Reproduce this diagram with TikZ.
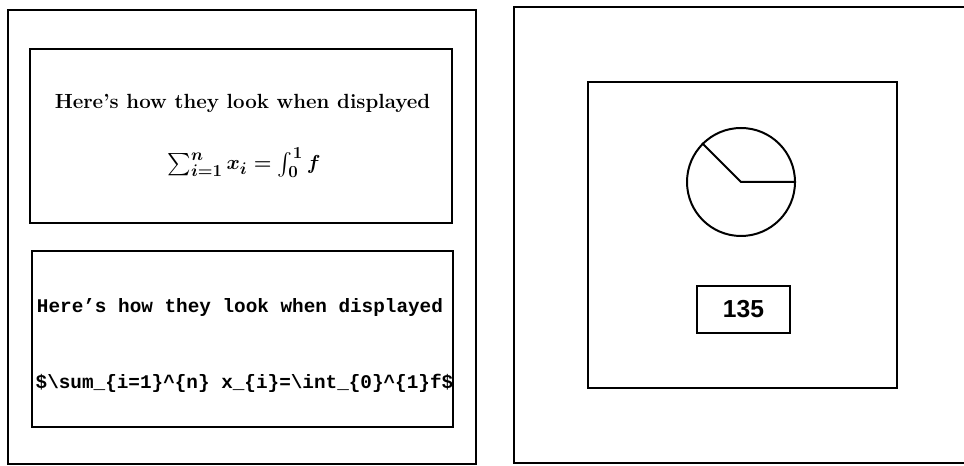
\documentclass[tikz,border=0pt]{standalone}
\usepackage{amsmath,amssymb}
\usepackage{fontspec}
\usepackage{tikz}
\usetikzlibrary{positioning}
\newfontfamily\codefont{Liberation Mono}
\newfontfamily\valuefont{Liberation Sans}
\begin{document}
\begin{tikzpicture}[
  every node/.style={inner sep=0pt, line width=2pt},
  frame/.style={draw, rectangle},
]
\tikzset{
  serifline/.style={font=\fontsize{17.5}{20}\selectfont\bfseries},
  mathline/.style={font=\fontsize{19}{22}\selectfont\boldmath},
  codeline/.style={font=\fontsize{16.5}{19}\selectfont\codefont\bfseries},
}
  \useasboundingbox (0,0) rectangle (28.92,13.98);

  % Left panel
  \node[frame, minimum width=14.04cm, minimum height=13.62cm] (leftpanel) at (7.26, 6.87) {};
  \node[frame, minimum width=12.66cm, minimum height=5.22cm] (shown) at (7.23, 9.9) {};
  \node[frame, minimum width=12.63cm, minimum height=5.28cm] (source) at (7.275, 3.81) {};

  \node[serifline] (shownhead) at (7.275, 10.89) {Here's how they look when displayed};
  \node[mathline] (shownmath) at (7.32, 9.09) {$\sum_{i=1}^n x_i = \int_0^1 f$};
  \node[codeline] (sourcehead) at (7.2, 4.74) {Here’s how they look when displayed};
  \node[codeline] (sourcemath) at (7.335, 2.49)
    {\$\textbackslash sum\_\{i=1\}\^{}\{n\} x\_\{i\}=\textbackslash int\_\{0\}\^{}\{1\}f\$};

  % Right panel
  \node[frame, minimum width=13.74cm, minimum height=13.68cm] (rightpanel) at (22.29, 6.93) {};
  \node[frame, minimum width=9.27cm, minimum height=9.18cm] (gauge) at (22.275, 6.93) {};
  \node[draw, circle, line width=1.7pt, minimum size=3.24cm] (dial) at (22.23, 8.52) {};
  \node[frame, minimum width=2.79cm, minimum height=1.41cm,
        font=\fontsize{21}{24}\selectfont\valuefont\bfseries] (value) at (22.305, 4.695) {135};

  % Needle
  \draw[line width=1.7pt] (dial.east) -- (dial.center) -- (dial.135);

\end{tikzpicture}
\end{document}
